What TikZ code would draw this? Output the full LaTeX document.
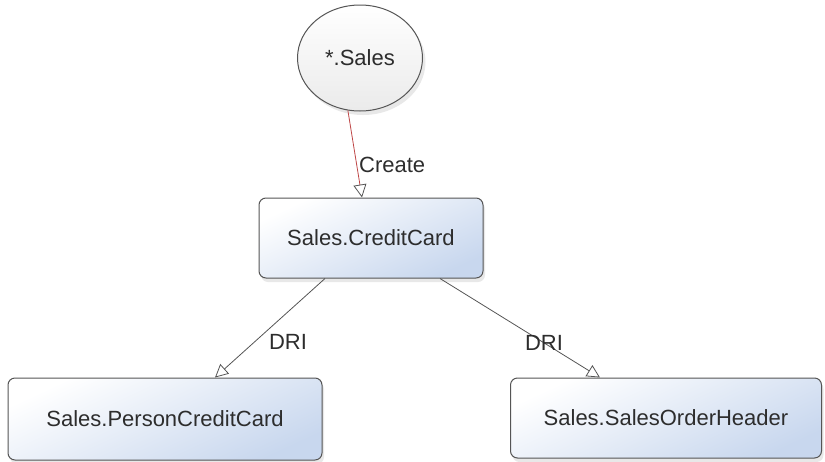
\documentclass[tikz,border=0pt]{standalone}
\usepackage{fontspec}
\setmainfont{Liberation Sans}
\usepackage{tikz}
\usetikzlibrary{arrows.meta,shapes.geometric,shadows}
\definecolor{edgegray}{RGB}{85,85,85}
\definecolor{txtgray}{RGB}{45,45,45}
\definecolor{boxblue}{RGB}{200,215,238}
\definecolor{crtred}{RGB}{190,70,70}
\tikzset{
  tbl/.style={draw=edgegray, line width=1pt, rounded corners=7pt,
              top color=white, bottom color=boxblue, shading angle=25,
              drop shadow={opacity=0.18, shadow xshift=2pt, shadow yshift=-4pt},
              text=txtgray, font=\fontsize{22}{26}\selectfont, inner sep=0pt},
  sch/.style={ellipse, draw=edgegray, line width=1pt,
              top color=white, bottom color=black!8,
              drop shadow={opacity=0.18, shadow xshift=3pt, shadow yshift=-4pt},
              text=txtgray, font=\fontsize{22}{26}\selectfont, inner sep=0pt,
              minimum width=125pt, minimum height=106pt},
  lbl/.style={text=txtgray, font=\fontsize{22}{26}\selectfont, inner sep=2pt},
  dep/.style={-{Triangle[open, length=13pt, width=13pt, fill=white]},
              edgegray, line width=0.8pt},
  crt/.style={dep, crtred}
}
\begin{document}
\begin{tikzpicture}[x=1pt, y=-1pt]
  \useasboundingbox (0,0) rectangle (825,461);
  \node[sch] (sales) at (360,58) {*.Sales};
  \node[tbl, minimum width=224pt, minimum height=80pt] (cc) at (371,238) {Sales.CreditCard};
  \node[tbl, minimum width=314pt, minimum height=82pt] (pcc) at (165,419) {Sales.PersonCreditCard};
  \node[tbl, minimum width=311pt, minimum height=80pt] (soh) at (666,418) {Sales.SalesOrderHeader};
  \draw[crt, -{Triangle[open, length=13pt, width=13pt, fill=white, color=edgegray]}]
    (sales.257) -- node[lbl, pos=0.63, anchor=west]{Create} ([xshift=-9pt]cc.north);
  \draw[dep] ([xshift=-46pt]cc.south) -- node[lbl, pos=0.64, anchor=west, xshift=12pt]{DRI} ([xshift=50pt]pcc.north);
  \draw[dep] ([xshift=69pt]cc.south) -- node[lbl, pos=0.65]{DRI} ([xshift=-66pt]soh.north);
\end{tikzpicture}
\end{document}
